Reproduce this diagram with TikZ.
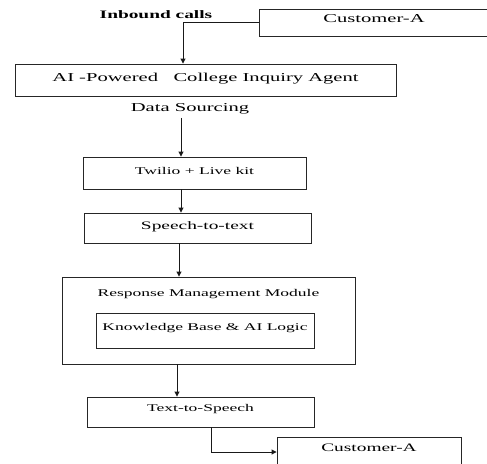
\documentclass[tikz,border=0pt]{standalone}
\usepackage{fontspec}
\setmainfont{Liberation Serif}[FakeStretch=1.7]
\usetikzlibrary{arrows.meta,calc}
\begin{document}
\begin{tikzpicture}[x=1pt,y=-1pt,
  box/.style={draw=black!85, line width=0.9pt, inner xsep=0pt, inner ysep=0pt, align=center},
  arr/.style={draw=black!90, line width=0.9pt, -{Triangle[length=5pt,width=5pt]}},
  fsmall/.style={font=\fontsize{10.3}{12}\selectfont},
  fmid/.style={font=\fontsize{11.4}{13}\selectfont},
  fbig/.style={font=\fontsize{12.1}{14}\selectfont},
  fbold/.style={font=\fontsize{11.4}{13}\selectfont\bfseries}]
\useasboundingbox (0,0) rectangle (487,463);

\node[fbold] (inb) at (156,15) {Inbound calls};
\node[box, fbig, minimum width=230pt, text height=13pt, text depth=14pt] (custTop) at (374,22.5) {Customer-A};
\node[box, fbig, minimum width=381pt, text height=17pt, text depth=15pt] (ai) at (205.5,80) {AI -Powered\ \ \ College Inquiry Agent};
\node[fbig] (ds) at (190,109) {Data Sourcing};
\node[box, fsmall, minimum width=223pt, text height=17pt, text depth=15pt] (tw) at (194.5,173) {Twilio + Live kit};
\node[box, fmid, minimum width=227pt, text height=16pt, text depth=14pt] (stt) at (197.5,228) {Speech-to-text};
\node[box, fsmall, minimum width=293pt, text height=19pt, text depth=68pt] (rmm) at (208.5,320.5) {Response Management Module};
\node[box, fsmall, minimum width=218pt, text height=17pt, text depth=18pt] (kb) at (205,330.5) {Knowledge Base \& AI Logic};
\node[box, fsmall, minimum width=227pt, text height=14pt, text depth=16pt] (tts) at (200.5,412) {Text-to-Speech};
\node[box, fmid, minimum width=184pt, text height=14pt, text depth=16pt] (custB) at (369,452) {Customer-A};

\coordinate (inEnd) at ($(ai.north)+(-22.5,0)$);
\draw[arr] (custTop.west) -| (inEnd);
\draw[arr] ($(ds.south)+(-9,0)$) -- ($(tw.north)+(-13.5,0)$);
\draw[arr] ($(tw.south)+(-13.5,0)$) -- ($(stt.north)+(-16.5,0)$);
\draw[arr] ($(stt.south)+(-18.5,0)$) -- ($(rmm.north)+(-29.5,0)$);
\draw[arr] ($(rmm.south)+(-31.5,0)$) -- ($(tts.north)+(-23.5,0)$);
\draw[arr] ($(tts.south)+(10.5,0)$) |- (custB.west);
\end{tikzpicture}
\end{document}
